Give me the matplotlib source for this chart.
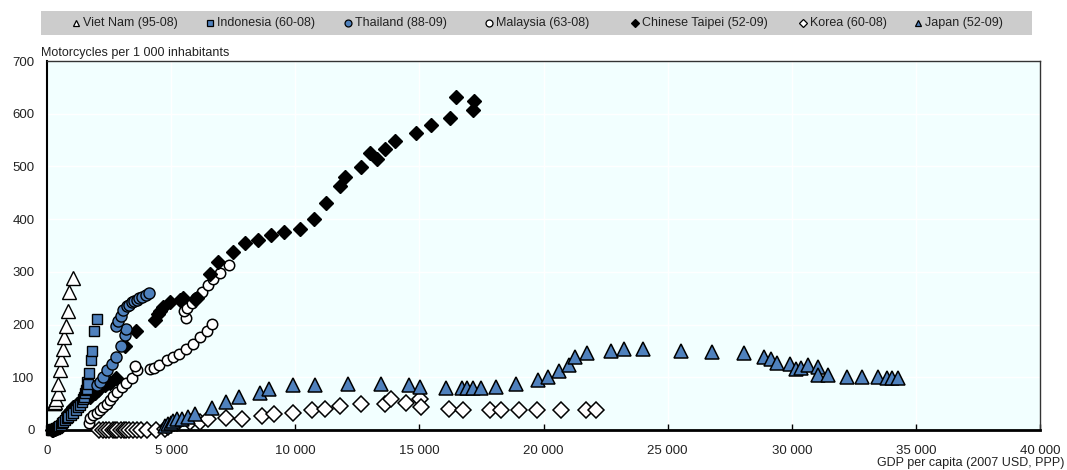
import matplotlib
matplotlib.use("Agg")
import matplotlib.pyplot as plt
from matplotlib.lines import Line2D
from matplotlib.patches import Rectangle
from matplotlib.ticker import FuncFormatter

plt.rcParams['font.family'] = ['Liberation Sans', 'DejaVu Sans']

# ---------------- data ----------------
series_names = ["Viet Nam (95-08)", "Indonesia (60-08)", "Thailand (88-09)",
                "Malaysia (63-08)", "Chinese Taipei (52-09)", "Korea (60-08)", "Japan (52-09)"]

vietnam_gdp = [280, 300, 330, 365, 430, 455, 525, 565, 630, 685, 750, 860, 900, 1035]
vietnam_moto = [51, 52, 54, 59, 70, 87, 113, 135, 154, 176, 197, 226, 261, 288]

indonesia_gdp = [150, 200, 240, 280, 320, 360, 400, 457, 500, 550, 592, 650, 726, 800, 860,
                 950, 1062, 1150, 1263, 1330, 1398, 1450, 1492, 1540, 1572, 1600, 1625, 1667,
                 1707, 1761, 1801, 1895, 2028]
indonesia_moto = [0, 0, 1, 1, 2, 3, 4, 6, 8, 10, 13, 16, 19, 22, 25,
                  29, 33, 38, 44, 48, 54, 58, 63, 70, 75, 77, 92, 88,
                  108, 133, 150, 188, 210]

thailand_gdp = [2000, 2140, 2270, 2410, 2610, 2780, 2970, 3150, 3185, 2780, 2875, 2970,
                3080, 3210, 3300, 3415, 3500, 3615, 3700, 3815, 3990, 4125]
thailand_moto = [85, 92, 101, 113, 126, 139, 159, 180, 192, 197, 207, 216,
                 228, 236, 238, 242, 244, 247, 250, 252, 257, 259]

malaysia_gdp = [1707, 1734, 1868, 2003, 2137, 2271, 2407, 2540, 2674, 2836, 3010, 3185,
                3415, 3616, 3548, 4153, 4314, 4528, 4826, 5093, 5335, 5605, 5899, 6169,
                6464, 6640, 5605, 5524, 5633, 5834, 6008, 6237, 6504, 6706, 6975, 7338]
malaysia_moto = [14, 22, 28, 32, 37, 43, 49, 57, 64, 73, 81, 89,
                 98, 113, 121, 115, 117, 123, 133, 139, 144, 153, 163, 176,
                 188, 201, 212, 226, 231, 240, 250, 262, 275, 286, 298, 313]

taipei_gdp = [200, 256, 330, 390, 470, 592, 660, 726, 800, 860, 950, 1062, 1223, 1465,
              1734, 1935, 2070, 2137, 2339, 2433, 2540, 2782, 3145, 3588,
              4355, 4489, 4556, 4690, 4959, 5362, 5497, 5967, 6035, 6572, 6908,
              7512, 7983, 8480, 9019, 9528, 10201, 10765, 11249, 11786, 12015,
              12661, 12996, 13292, 13627, 14031, 14878, 15470, 16249, 16490,
              17217, 17163]
taipei_moto = [0, 0, 1, 3, 6, 13, 17, 22, 27, 32, 38, 44, 49, 57,
               63, 70, 76, 85, 85, 89, 90, 98, 160, 188,
               209, 221, 225, 234, 242, 247, 250, 248, 251, 296, 319,
               337, 354, 361, 369, 376, 381, 400, 431, 463, 479,
               498, 525, 514, 533, 549, 564, 579, 591, 632,
               625, 607]

korea_gdp = [2110, 2250, 2379, 2510, 2648, 2750, 2836, 2970, 3105, 3200, 3319, 3454, 3616,
             3800, 4019, 4395, 4758, 4892, 5229, 5766, 6169, 6504, 7205, 7875, 8656,
             9125, 9890, 10672, 11209, 11786, 12661, 13600, 13858, 14475, 15012, 15067,
             16181, 16761, 17834, 18293, 19031, 19745, 20685, 21693, 22123]
korea_moto = [0, 0, 0, 0, 0, 0, 0, 0, 0, 0, 0, 0, 0,
              0, 0, 0, 1, 6, 13, 15, 16, 20, 22, 20, 27,
              30, 32, 37, 40, 46, 49, 50, 58, 52, 58, 43,
              40, 37, 38, 37, 37, 37, 37, 37, 37]

japan_gdp = [4758, 4892, 4987, 5068, 5229, 5431, 5697, 5967, 6640, 7217, 7714, 8560,
             8923, 9906, 10806, 12110, 13452, 14570, 15013, 16088, 16720, 16920, 17163,
             17499, 18104, 18910, 19769, 20172, 20644, 21019, 21289, 21733, 22700,
             23237, 24019, 25523, 26773, 28075, 28882, 29180, 29420, 29917, 30159,
             30361, 30671, 31057, 31057, 31460, 32242, 32847, 33476, 33855, 34057, 34284]
japan_moto = [8, 11, 13, 17, 20, 21, 25, 30, 41, 54, 62, 71,
              77, 85, 85, 87, 87, 85, 82, 79, 79, 79, 79,
              79, 81, 87, 95, 101, 111, 123, 138, 146, 150,
              153, 153, 150, 148, 146, 139, 134, 128, 125, 115,
              117, 123, 120, 104, 104, 101, 101, 101, 98, 98, 98]

x_ticks = [0, 5000, 10000, 15000, 20000, 25000, 30000, 35000, 40000]
y_ticks = [0, 100, 200, 300, 400, 500, 600, 700]

BLUE = "#4F81BD"

# ---------------- figure ----------------
W, H = 1067, 470
fig = plt.figure(figsize=(W / 100, H / 100), dpi=100)
ax = fig.add_axes([47 / W, 1 - 430 / H, (1040 - 47) / W, (430 - 61) / H])
ax.set_facecolor("#F2FFFF")

styles = {
    "Korea (60-08)": dict(marker="D", mfc="white", mec="black", ms=7.8, mew=1.1),
    "Japan (52-09)": dict(marker="^", mfc=BLUE, mec="black", ms=9.5, mew=1.1),
    "Malaysia (63-08)": dict(marker="o", mfc="white", mec="black", ms=7.5, mew=1.1),
    "Chinese Taipei (52-09)": dict(marker="D", mfc="black", mec="black", ms=7.3, mew=1.0),
    "Indonesia (60-08)": dict(marker="s", mfc=BLUE, mec="black", ms=7.0, mew=1.0),
    "Thailand (88-09)": dict(marker="o", mfc=BLUE, mec="black", ms=8.0, mew=1.0),
    "Viet Nam (95-08)": dict(marker="^", mfc="white", mec="black", ms=9.5, mew=1.0),
}
data = {
    "Korea (60-08)": (korea_gdp, korea_moto),
    "Japan (52-09)": (japan_gdp, japan_moto),
    "Malaysia (63-08)": (malaysia_gdp, malaysia_moto),
    "Chinese Taipei (52-09)": (taipei_gdp, taipei_moto),
    "Indonesia (60-08)": (indonesia_gdp, indonesia_moto),
    "Thailand (88-09)": (thailand_gdp, thailand_moto),
    "Viet Nam (95-08)": (vietnam_gdp, vietnam_moto),
}
for name in ["Korea (60-08)", "Japan (52-09)", "Malaysia (63-08)", "Chinese Taipei (52-09)",
             "Indonesia (60-08)", "Thailand (88-09)", "Viet Nam (95-08)"]:
    xs, ys = data[name]
    ax.plot(xs, ys, linestyle="none", zorder=3, clip_on=False, **styles[name])

ax.set_xlim(0, 40000)
ax.set_ylim(0, 700)
ax.set_xticks(x_ticks)
ax.set_yticks(y_ticks)
fmt = FuncFormatter(lambda v, p: f"{int(v):,}".replace(",", " "))
ax.xaxis.set_major_formatter(fmt)
ax.yaxis.set_major_formatter(fmt)
ax.grid(True, color="white", linewidth=1.0, zorder=0)
ax.set_axisbelow(True)
ax.tick_params(axis="x", direction="in", length=4, width=1, color="black",
               labelsize=9.5, pad=11, labelcolor="#222222")
ax.tick_params(axis="y", length=0, labelsize=9.5, pad=9, labelcolor="#222222")
for s in ["top", "right"]:
    ax.spines[s].set_linewidth(1.0)
    ax.spines[s].set_color("#333333")
ax.spines["left"].set_linewidth(1.5)
ax.spines["bottom"].set_linewidth(2.0)
ax.spines["left"].set_color("black")
ax.spines["bottom"].set_color("black")

fig.text(41 / W, 1 - 53 / H, "Motorcycles per 1 000 inhabitants", fontsize=9,
         ha="left", va="center", color="#222222")
fig.text(1064 / W, 1 - 463 / H, "GDP per capita (2007 USD, PPP)", fontsize=9,
         ha="right", va="center", color="#222222")

# ---------------- legend band ----------------
fig.add_artist(Rectangle((41 / W, 1 - 35 / H), (1032 - 41) / W, 24 / H,
                         transform=fig.transFigure, facecolor="#CCCCCC",
                         edgecolor="none", zorder=0))
legend_x = [76, 210, 348, 489, 635, 803, 918]
leg_styles = {
    "Viet Nam (95-08)": dict(marker="^", mfc="white", mec="black", ms=5, mew=0.9),
    "Indonesia (60-08)": dict(marker="s", mfc=BLUE, mec="black", ms=5, mew=0.9),
    "Thailand (88-09)": dict(marker="o", mfc=BLUE, mec="black", ms=5, mew=0.9),
    "Malaysia (63-08)": dict(marker="o", mfc="white", mec="black", ms=5, mew=0.9),
    "Chinese Taipei (52-09)": dict(marker="D", mfc="black", mec="black", ms=4.5, mew=0.9),
    "Korea (60-08)": dict(marker="D", mfc="white", mec="black", ms=4.5, mew=0.9),
    "Japan (52-09)": dict(marker="^", mfc=BLUE, mec="black", ms=5, mew=0.9),
}
ly = 1 - 23 / H
for name, lx in zip(series_names, legend_x):
    fig.add_artist(Line2D([lx / W], [ly], transform=fig.transFigure,
                          linestyle="none", **leg_styles[name]))
    fig.text((lx + 7) / W, ly, name, fontsize=9, ha="left", va="center", color="#222222")

fig.savefig("out.png", dpi=100)
